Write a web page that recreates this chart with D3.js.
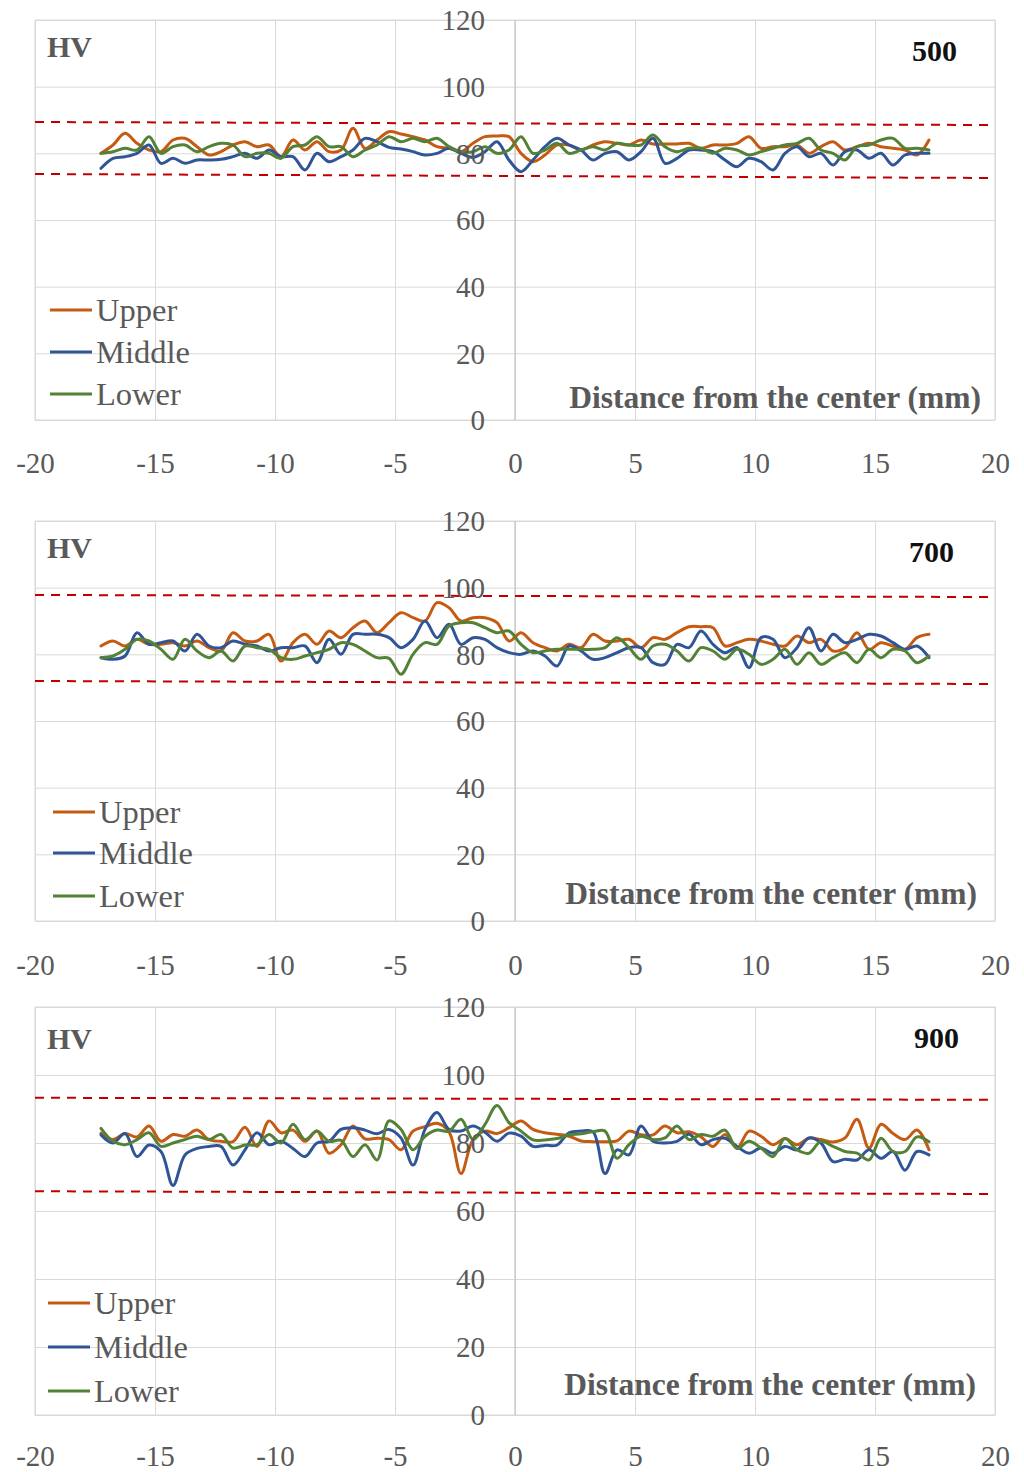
<!DOCTYPE html>
<html><head><meta charset="utf-8">
<script src="https://cdn.jsdelivr.net/npm/d3@7"></script>
<style>body{margin:0;background:#fff} svg{display:block}</style>
</head><body>
<svg id="c" width="1024" height="1472"></svg>
<script>
// ---------- DATA ----------
const distances = [-17.25,-16.75,-16.25,-15.75,-15.25,-14.75,-14.25,-13.75,-13.25,-12.75,-12.25,-11.75,-11.25,-10.75,-10.25,-9.75,-9.25,-8.75,-8.25,-7.75,-7.25,-6.75,-6.25,-5.75,-5.25,-4.75,-4.25,-3.75,-3.25,-2.75,-2.25,-1.75,-1.25,-0.75,-0.25,0.25,0.75,1.25,1.75,2.25,2.75,3.25,3.75,4.25,4.75,5.25,5.75,6.25,6.75,7.25,7.75,8.25,8.75,9.25,9.75,10.25,10.75,11.25,11.75,12.25,12.75,13.25,13.75,14.25,14.75,15.25,15.75,16.25,16.75,17.25];
const seriesNames = ["Upper","Middle","Lower"];
const temperatures = ["500","700","900"];
const xTicks = [-20,-15,-10,-5,0,5,10,15,20];
const yTicks = [0,20,40,60,80,100,120];

const upper500 = [80,82.5,86,83,81,80.5,84,84.5,82,79.5,80.5,82.5,83.5,82,82.5,79,84,81,83.5,80.5,81,87.5,81.5,84,
  86.5,85.8,85,84,82,81.5,80.5,83,85,85.2,85,80,77.5,79.5,82.5,82.5,81,82.5,83.5,83,82.5,84,82.8,
  82.8,82.8,83,81.5,82.5,82.5,83,85,81.5,82,82,82.5,80,82,83.5,81,82,83,82,81.5,81,79.5,84];
const middle500 = [75.5,78.5,79,80,82.5,77,78.5,77,78,78,78.2,79,80,78.5,81,79,79,75,80,77.5,79,81,84.5,83.5,
  81.8,81.3,80.5,79.5,80,81.5,80,78.8,80.5,83.5,78,74.5,78,82,84.5,82.5,81,78,80,80.5,78,80.5,84.5,
  77,78.5,81,81,80.5,78,76,78.5,77.5,75,80,82,79,80,76.5,80.5,81,78.5,80,76.5,79.5,80,80];
const lower500 = [80,80.5,81.5,81,85,80,82,82.5,80.5,82,83,82.5,79,80,80,78.5,82,82.5,85,82,82,79,81,82.5,
  85,83.5,84.5,83.5,84.5,82,80.5,80.5,82,80,81,85,80,81,83,80,81,82,81,83,82.5,82.5,85.5,
  82,80.5,81.5,81.5,80,81.5,81,79.5,80.5,81.5,82.5,83,84.5,81,80,78,82,82.5,84,84.5,81.5,81.5,81];

const upper700 = [82.5,84,82.5,84.5,83,83,83.5,82.5,84,82,81,86.5,84,84,86,78,83.5,86,83,87,85,88,90,86.5,
  89.5,92.5,91,90,95.5,94,90,91,91,89.5,84,86.5,83.5,82,81,83,82,86,84,84,84.5,82,85,
  84.5,86.5,88.3,88.3,88,82.5,83.5,84.5,84,83,82.5,85.5,83.5,84.5,81,82,86.5,81.5,83.5,82.5,81.5,85,86];
const middle700 = [79,78.5,79.5,86.5,83,83.5,84,81,86,82.5,82,84,83,82.5,81,82,82,82.5,77.5,84.5,80,86,86,86,
  85,82,84.5,90,85,89,83,85,84.5,82,80.5,80,81,79.5,76.5,82.5,81,78.5,79,80.5,82,82,77.5,
  77,83,82,87,83,80.5,82,76,85,84.5,79,82,88,81,86,83.5,84.5,86,85.5,83.5,81.5,82.5,79];
const lower700 = [79,79.5,81.5,84.5,84,81.5,78.5,84.5,81,79,81,78,82.5,82,81.5,79,78.5,79.5,80.5,81.5,83.5,83,81,79,
  78.8,74,80,83.5,83,88.5,89.5,89.5,88,86.5,87,83,80.5,81,81.5,81.5,81.5,81.5,82,85,82,78.5,82.5,
  83,81,78,82,81,78.5,81.5,80,77,78.5,81.5,77,80.5,77,79,80.5,77.5,81.5,79,81.5,81,77.5,79.5];

const upper900 = [82.9,81,82.8,81.8,85,80.5,82.5,82,83.8,81,80.5,80.4,84.6,79,86.5,83,83.8,80.5,83.5,77,79.5,85,81.2,81.4,
  81,78,83.5,84.8,85.8,83.3,71,81,83.5,82.8,84.5,86.5,84,83,82.6,82,80.6,80.4,80.4,80.6,83.5,82.4,82.4,
  85,83,83.3,81.8,79,82.5,78.5,83.5,82,79.5,81.3,79.5,81.4,81,80.3,81.5,87,78.5,85.5,82.8,81,83.8,78];
const middle900 = [82.4,80,82.8,76,79.4,77.5,67.5,76.5,78.4,79,79,73.5,78,83,79.5,80.5,78.4,76,80,80.5,84,84.5,83.8,82.7,
  84,81.5,73.5,84,89,84,83.5,85,83.2,80.5,82.9,82,79,79.3,79.4,83,83.5,83.3,71,78,76.5,85,80.5,
  80,80.5,82.6,79.5,81,81.4,79,77,78.5,77,79,78,81.5,80,74.5,75.2,75,78,75.5,77.5,72,77.5,76.5];
const lower900 = [84.3,80.5,79.5,81,83,79,80,81,82,81,82.5,78.5,79.4,79.5,82.5,80,85.5,81,83.5,80.5,80.8,76,79.5,75,
  86.5,84,78,82,83.8,83.5,87,81,85.5,91,86,83.5,80.9,80.9,81.3,82.4,82.7,83.3,83.5,75.5,79.5,82,81,
  81.5,85,81,82.5,82,83.8,78.4,80.5,78.5,76,81.3,78,77,80.5,79,77.5,77,75,81.4,77.5,77.5,81.8,80.4];

// red dashed limit lines: values at x = -20 and x = 20
const limitX = [-20, 20];
const upperLimit500 = [89.4, 88.5], lowerLimit500 = [73.8, 72.6];
const upperLimit700 = [97.8, 97.2], lowerLimit700 = [72.0, 71.1];
const upperLimit900 = [93.3, 92.7], lowerLimit900 = [65.8, 65.0];

// ---------- LAYOUT ----------
const colors = ["#C55A11", "#2F5597", "#538135"];
const panels = [
  {temp: temperatures[0], series:[upper500, middle500, lower500], lim:[upperLimit500, lowerLimit500],
   top:20, bottom:420, xLabY:463, legX:50, legRows:[290,332,374], hvY:26, numR:957, numY:30, titleR:981, titleY:377},
  {temp: temperatures[1], series:[upper700, middle700, lower700], lim:[upperLimit700, lowerLimit700],
   top:521, bottom:921, xLabY:965, legX:53, legRows:[291,332,375], hvY:26, numR:954, numY:30, titleR:977, titleY:372},
  {temp: temperatures[2], series:[upper900, middle900, lower900], lim:[upperLimit900, lowerLimit900],
   top:1007, bottom:1415, xLabY:1456, legX:48, legRows:[296,340,384], hvY:31, numR:959, numY:30, titleR:976, titleY:377}
];
const left = 35, right = 995;
const serif = "'Liberation Serif', 'Times New Roman', serif";
const textCol = "#595959";
const fmt = d => String(d);

const svg = d3.select("#c");
const x = d3.scaleLinear().domain([-20, 20]).range([left, right]);

panels.forEach(p => {
  const y = d3.scaleLinear().domain([0, 120]).range([p.bottom, p.top]);
  const g = svg.append("g");

  // horizontal grid
  g.append("g").attr("transform", `translate(${left},0)`)
    .call(d3.axisLeft(y).tickValues(yTicks).tickSize(-(right-left)).tickFormat(""))
    .call(s => s.select(".domain").remove())
    .call(s => s.selectAll("line").attr("stroke", "#d9d9d9").attr("stroke-width", 1));
  // vertical grid
  g.append("g").attr("transform", `translate(0,${p.bottom})`)
    .call(d3.axisBottom(x).tickValues(xTicks).tickSize(-(p.bottom-p.top)).tickFormat(""))
    .call(s => s.select(".domain").remove())
    .call(s => s.selectAll("line").attr("stroke", "#d9d9d9").attr("stroke-width", 1));
  // border
  g.append("rect").attr("x", left).attr("y", p.top).attr("width", right-left).attr("height", p.bottom-p.top)
    .attr("fill", "none").attr("stroke", "#d9d9d9").attr("stroke-width", 1);
  // y axis line at x=0
  g.append("line").attr("x1", x(0)).attr("x2", x(0)).attr("y1", p.top).attr("y2", p.bottom)
    .attr("stroke", "#c8c8c8").attr("stroke-width", 1.3);

  // limit lines
  p.lim.forEach(vals => {
    g.append("path")
      .datum(limitX.map((d, i) => [d, vals[i]]))
      .attr("d", d3.line().x(d => x(d[0])).y(d => y(d[1])))
      .attr("fill", "none").attr("stroke", "#C00000").attr("stroke-width", 2)
      .attr("stroke-dasharray", "9,7");
  });

  // data lines
  const line = d3.line().x(d => x(d[0])).y(d => y(d[1])).curve(d3.curveCatmullRom.alpha(0.5));
  p.series.forEach((vals, si) => {
    g.append("path")
      .datum(distances.map((d, i) => [d, vals[i]]))
      .attr("d", line)
      .attr("fill", "none").attr("stroke", colors[si]).attr("stroke-width", 3)
      .attr("stroke-linejoin", "round").attr("stroke-linecap", "round");
  });

  // y tick labels (axis at x=0, labels to its left)
  g.append("g").attr("transform", `translate(${x(0) - 30},0)`)
    .call(d3.axisLeft(y).tickValues(yTicks).tickSize(0).tickPadding(0).tickFormat(fmt))
    .call(s => s.select(".domain").remove())
    .call(s => s.selectAll("text").attr("font-family", serif).attr("font-size", 29)
      .attr("fill", textCol).attr("dy", "0.34em"));

  // x tick labels
  g.append("g").attr("transform", `translate(0,${p.xLabY})`)
    .call(d3.axisBottom(x).tickValues(xTicks).tickSize(0).tickPadding(0).tickFormat(fmt))
    .call(s => s.select(".domain").remove())
    .call(s => s.selectAll("text").attr("font-family", serif).attr("font-size", 29)
      .attr("fill", textCol).attr("dy", "0.34em"));

  // HV label
  g.append("text").attr("x", 47).attr("y", p.top + p.hvY).attr("dy", "0.35em")
    .attr("font-family", serif).attr("font-size", 30).attr("font-weight", "bold")
    .attr("fill", textCol).text("HV");
  // temperature label
  g.append("text").attr("x", p.numR).attr("y", p.top + p.numY).attr("dy", "0.35em")
    .attr("text-anchor", "end")
    .attr("font-family", serif).attr("font-size", 30).attr("font-weight", "bold")
    .attr("fill", "#111").text(p.temp);
  // axis title
  g.append("text").attr("x", p.titleR).attr("y", p.top + p.titleY).attr("dy", "0.35em")
    .attr("text-anchor", "end")
    .attr("font-family", serif).attr("font-size", 31.5).attr("font-weight", "bold")
    .attr("fill", textCol).text("Distance from the center (mm)");

  // legend
  seriesNames.forEach((name, si) => {
    const ly = p.top + p.legRows[si];
    g.append("line").attr("x1", p.legX).attr("x2", p.legX + 42).attr("y1", ly).attr("y2", ly)
      .attr("stroke", colors[si]).attr("stroke-width", 3);
    g.append("text").attr("x", p.legX + 46).attr("y", ly).attr("dy", "0.35em")
      .attr("font-family", serif).attr("font-size", 32.5).attr("fill", textCol).text(name);
  });
});
</script>
</body></html>
